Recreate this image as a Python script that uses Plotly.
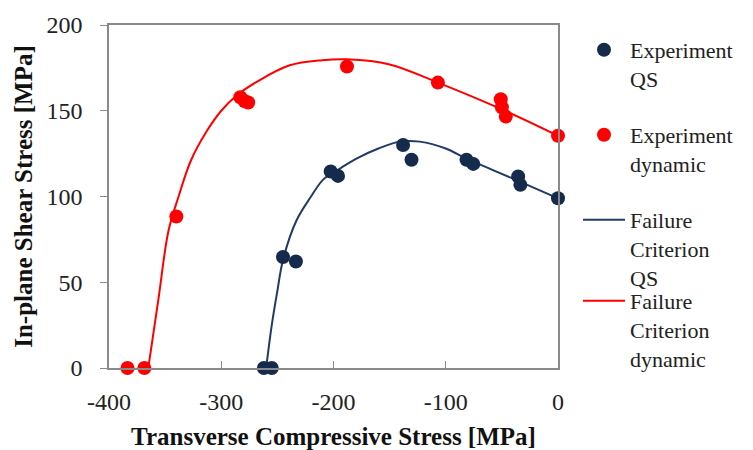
import plotly.graph_objects as go

qs_x = [-262, -255, -245, -233.5, -202.5, -196, -138, -130.5, -81.5, -75.5, -35.5, -33.5, 0]
qs_y = [0, 0, 64.7, 62.1, 114.6, 112, 130, 121.4, 121.4, 119, 111.7, 106.8, 99]
dyn_x = [-383.5, -368.5, -340, -283, -279, -276, -188, -107, -51, -50, -46.5, 0]
dyn_y = [0, 0, 88.3, 157.9, 155.5, 154.8, 175.8, 166.4, 156.7, 152, 146.6, 135.4]

# Failure criterion curves
crit_qs_x = [-260, -255, -250, -245, -233, -220, -209, -195, -180, -160, -141, -123, -100, -81.5, -60, -35, 0]
crit_qs_y = [0, 25, 45, 63, 86, 100, 110, 116, 122, 128, 132, 132, 128, 122, 116, 109, 99]
crit_dyn_x = [-365, -356, -347, -338, -327, -313, -300, -286, -268, -239, -210, -188, -150, -107, -49, 0]
crit_dyn_y = [0, 40, 80, 100, 121, 138, 150, 159, 167, 176.5, 179.5, 180, 177, 166.4, 150.5, 135.4]

x_ticks = [-400, -300, -200, -100, 0]
y_ticks = [0, 50, 100, 150, 200]

NAVY = "#142b4c"
NAVY_LINE = "#1f3b66"
RED = "#ff0000"
FONT = "'Liberation Serif', 'Times New Roman', 'DejaVu Serif', serif"

# page has an 8px body margin; figure fills the rest of the 753x450 window
W, H, OFF = 745, 442, 8

fig = go.Figure()
fig.add_trace(go.Scatter(x=crit_qs_x, y=crit_qs_y, mode="lines", name="Failure<br>Criterion<br>QS",
                         line=dict(color=NAVY_LINE, width=2, shape="spline"), legend="legend3", cliponaxis=False))
fig.add_trace(go.Scatter(x=crit_dyn_x, y=crit_dyn_y, mode="lines", name="Failure<br>Criterion<br>dynamic",
                         line=dict(color=RED, width=2, shape="spline"), legend="legend4", cliponaxis=False))
fig.add_trace(go.Scatter(x=qs_x, y=qs_y, mode="markers", name="Experiment<br>QS",
                         marker=dict(color=NAVY, size=14), legend="legend", cliponaxis=False))
fig.add_trace(go.Scatter(x=dyn_x, y=dyn_y, mode="markers", name="Experiment<br>dynamic",
                         marker=dict(color=RED, size=14), legend="legend2", cliponaxis=False))

leg_common = dict(xref="container", yref="container", xanchor="left", yanchor="top",
                  font=dict(family=FONT, size=22, color="#222"), valign="top",
                  bgcolor="rgba(0,0,0,0)", borderwidth=0, itemwidth=42)
LX = (578 - OFF) / W


def ly(top):
    return 1 - (top - OFF) / H


fig.update_layout(
    width=W, height=H,
    showlegend=True,
    margin=dict(l=109 - OFF, r=195, t=25 - OFF, b=82, autoexpand=False),
    paper_bgcolor="white", plot_bgcolor="white",
    font=dict(family=FONT, size=24, color="#222"),
    legend=dict(x=LX, y=ly(29), **leg_common),
    legend2=dict(x=LX, y=ly(114), **leg_common),
    legend3=dict(x=LX, y=ly(199), **leg_common),
    legend4=dict(x=LX, y=ly(280), **leg_common),
    xaxis=dict(range=[-400, 0], tickvals=x_ticks, ticktext=[str(v) for v in x_ticks],
               showgrid=False, zeroline=False, showline=True, mirror=True,
               linecolor="#8a8a8a", linewidth=1.5, ticks="inside", ticklen=7, tickcolor="#8a8a8a",
               ticklabelstandoff=11,
               title=dict(text="<b>Transverse Compressive Stress [MPa]</b>", font=dict(size=25, color="#111"), standoff=14)),
    yaxis=dict(range=[0, 200], tickvals=y_ticks, ticktext=[str(v) for v in y_ticks],
               showgrid=False, zeroline=False, showline=True, mirror=True,
               linecolor="#8a8a8a", linewidth=1.5, ticks="outside", ticklen=7, tickcolor="#8a8a8a",
               ticklabelstandoff=13,
               title=dict(text="<b>In-plane Shear Stress [MPa]</b>", font=dict(size=25, color="#111"), standoff=7)),
)

fig.write_html("out.html")
